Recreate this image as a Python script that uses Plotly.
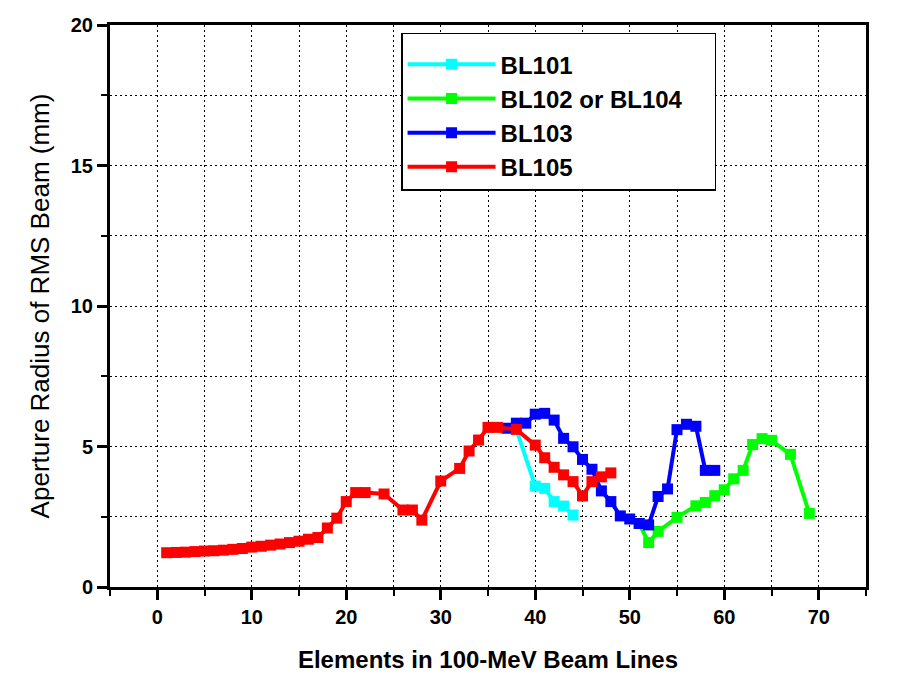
import plotly.graph_objects as go

# ---- data ----
cyan_x = [38, 40, 41, 42, 43, 44]
cyan_y = [5.61, 3.59, 3.51, 3.04, 2.88, 2.56]

green_x = [51, 52, 53, 55, 57, 58, 59, 60, 61, 62, 63, 64, 65, 67, 69]
green_y = [2.26, 1.58, 1.98, 2.48, 2.89, 3.01, 3.25, 3.46, 3.85, 4.15, 5.07, 5.28, 5.22, 4.72, 2.62]

blue_x = list(range(37, 60))
blue_y = [5.65, 5.83, 5.83, 6.15, 6.18, 5.94, 5.29, 4.99, 4.54, 4.19, 3.42, 3.04,
          2.53, 2.42, 2.26, 2.21, 3.22, 3.49, 5.60, 5.79, 5.72, 4.15, 4.15]

red_x = list(range(1, 23)) + [24, 26, 27, 28, 30, 32, 33, 34, 35, 36, 38,
                               40, 41, 42, 43, 44, 45, 46, 47, 48]
red_y = [1.22, 1.23, 1.24, 1.26, 1.28, 1.29, 1.31, 1.34, 1.37, 1.42, 1.45,
         1.49, 1.53, 1.58, 1.63, 1.70, 1.76, 2.10, 2.45, 3.04, 3.36, 3.36,
         3.31, 2.74, 2.74, 2.38, 3.77, 4.22, 4.84, 5.23, 5.68, 5.68, 5.61,
         5.05, 4.60, 4.26, 3.99, 3.75, 3.24, 3.75, 3.92, 4.06]

series_names = ["BL101", "BL102 or BL104", "BL103", "BL105"]
series = [
    (series_names[0], cyan_x, cyan_y, "#00FFFF"),
    (series_names[1], green_x, green_y, "#00FF00"),
    (series_names[2], blue_x, blue_y, "#0000FF"),
    (series_names[3], red_x, red_y, "#FF0000"),
]

x_ticks = [0, 10, 20, 30, 40, 50, 60, 70]
y_ticks = [0, 5, 10, 15, 20]

fig = go.Figure()
for name, xs, ys, col in series:
    label = name + ("&nbsp;" * 4 if name == "BL102 or BL104" else "")
    fig.add_trace(go.Scatter(
        x=xs, y=ys, name=label, mode="lines+markers",
        line=dict(color=col, width=4),
        marker=dict(symbol="square", size=11, color=col, line=dict(width=0)),
    ))

grid_dash = "2px,3px"
fig.update_xaxes(
    range=[-5, 75], tickvals=x_ticks, ticktext=[str(v) for v in x_ticks],
    showline=True, linewidth=3, linecolor="black", mirror=True,
    ticks="outside", ticklen=10, tickwidth=3, tickcolor="black",
    showgrid=True, gridcolor="black", gridwidth=1, griddash=grid_dash,
    zeroline=False,
    minor=dict(dtick=5, tick0=0, ticks="outside", ticklen=6, tickwidth=2,
               tickcolor="black", showgrid=True, gridcolor="black",
               gridwidth=1, griddash=grid_dash),
    tickfont=dict(family="Liberation Sans, Arial", size=20, color="black",
                  weight="bold"),
    title=dict(text="<b>Elements in 100-MeV Beam Lines</b>",
               font=dict(family="Liberation Sans, Arial", size=24, color="black"),
               standoff=25),
)
fig.update_yaxes(
    range=[0, 20], tickvals=y_ticks, ticktext=[str(v) for v in y_ticks],
    showline=True, linewidth=3, linecolor="black", mirror=True,
    ticks="outside", ticklen=10, tickwidth=3, tickcolor="black",
    showgrid=True, gridcolor="black", gridwidth=1, griddash=grid_dash,
    zeroline=False,
    minor=dict(dtick=2.5, tick0=0, ticks="outside", ticklen=6, tickwidth=2,
               tickcolor="black", showgrid=True, gridcolor="black",
               gridwidth=1, griddash=grid_dash),
    tickfont=dict(family="Liberation Sans, Arial", size=20, color="black",
                  weight="bold"),
    title=dict(text="Aperture Radius of RMS Beam (mm)",
               font=dict(family="Liberation Sans, Arial", size=26, color="black"),
               standoff=14),
)

fig.update_layout(
    width=897, height=693,
    margin=dict(l=110, r=31, t=25, b=106),
    plot_bgcolor="white", paper_bgcolor="white",
    legend=dict(
        x=0.385, y=0.986, xanchor="left", yanchor="top",
        bgcolor="white", bordercolor="black", borderwidth=1.5,
        font=dict(family="Liberation Sans, Arial", size=24, color="black",
                  weight="bold"),
        title=dict(text="&nbsp;", font=dict(size=6)),
        itemwidth=88, tracegroupgap=0,
    ),
    showlegend=True,
)

fig.write_html("out.html")
